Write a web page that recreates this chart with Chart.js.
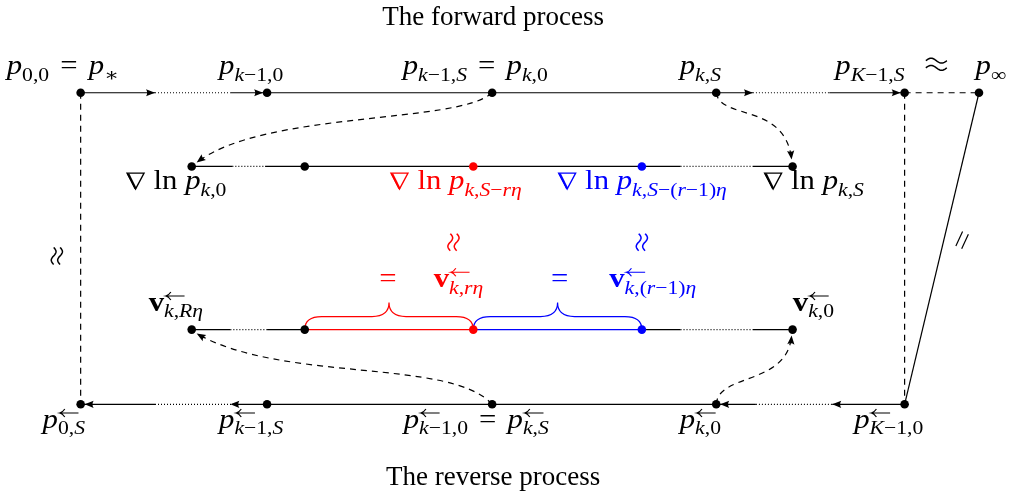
<!DOCTYPE html>
<html>
<head>
<meta charset="utf-8">
<script src="https://cdn.jsdelivr.net/npm/chart.js@4.4.1/dist/chart.umd.min.js"></script>
<style>
  html, body { margin: 0; padding: 0; background: #ffffff; }
  #chart { display: block; }
</style>
</head>
<body>
<canvas id="chart" width="1016" height="500" style="width:1016px;height:500px"></canvas>
<script>
// rows of the diagram (y in canvas units, the scales run 0..1016 and 0..500)
const topRowY = 90, gradRowY = 165, velRowY = 331, botRowY = 407;

// nodes
const topNodesX  = [77, 265, 492, 718, 908];
const infNode    = [983, 90];
const midNodesX  = [189, 303, 473, 643, 795];
const midColors  = ['#000000', '#000000', '#ff0000', '#0000ff', '#000000'];
const botNodesX  = [77, 265, 492, 718, 908];

// straight pieces [from, to] on each row
const topSolid   = [[77, 152], [228, 265], [265, 755], [832, 908]];
const topDotted  = [[152, 228], [755, 832]];
const topDashed  = [[908, 983]];
const gradSolid  = [[189, 230], [263, 682], [755, 795]];
const gradDotted = [[230, 263], [682, 755]];
const velSolid   = [[189, 228], [265, 303], [643, 682], [755, 795]];
const velDotted  = [[228, 265], [682, 755]];
const velRed     = [[303, 473]];
const velBlue    = [[473, 643]];
const botSolid   = [[77, 152], [230, 265], [265, 758], [835, 908]];
const botDotted  = [[152, 230], [758, 835]];
const sideDashedX = [77, 908];

// arrow tips on the rows [x, y, direction]
const rowArrows = [[152, 90, 1], [261, 90, 1], [755, 90, 1], [904, 90, 1],
                   [81, 407, -1], [228, 407, -1], [722, 407, -1], [835, 407, -1]];

// dashed curved arrows: start, control 1, control 2, tip
const curveArrows = [
  [[492, 90], [458, 122], [262, 108], [194, 161]],
  [[718, 90], [722, 118], [788, 100], [794, 158]],
  [[492, 407], [450, 360], [280, 385], [194, 335]],
  [[718, 407], [720, 375], [790, 388], [794, 337]]
];

// braces [x0, x1, color]
const braces = [[303, 473, '#ff0000'], [473, 643, '#0000ff']];

// text labels: runs are [text, style, level, noAdvance]
// style i=italic r=roman b=bold nabla / arrow drawn ; level 0 main, 1 sub, 2 sup
const EQ = [['', 'g', 0, 3], [' = ', 'r'], ['', 'g', 0, 3]];
const topLabels = [
  [59, [['p','i'],['0,0','r',1], ...EQ, ['p','i'],['\u2217','r',1]]],
  [249, [['p','i'],['k','i',1],['\u22121,0','r',1]]],
  [475, [['p','i'],['k','i',1],['\u22121,','r',1],['S','i',1], ...EQ, ['p','i'],['k','i',1],[',0','r',1]]],
  [702, [['p','i'],['k','i',1],[',','r',1],['S','i',1]]],
  [873, [['p','i'],['K','i',1],['\u22121,','r',1],['S','i',1]]],
  [995, [['p','i'],['\u221e','r',1]]]
];
const NABLA = [['', 'nabla'], [' ln ', 'r']];
const gradLabels = [
  [173, '#000000', [...NABLA, ['p','i'],['k','i',1],[',0','r',1]]],
  [455, '#ff0000', [...NABLA, ['p','i'],['k','i',1],[',','r',1],['S','i',1],['\u2212','r',1],['r\u03b7','i',1]]],
  [643, '#0000ff', [...NABLA, ['p','i'],['k','i',1],[',','r',1],['S','i',1],['\u2212(','r',1],['r','i',1],['\u22121)','r',1],['\u03b7','i',1]]],
  [816, '#000000', [...NABLA, ['p','i'],['k','i',1],[',','r',1],['S','i',1]]]
];
const ARR = ['', 'arrow', 2, true];
const velLabels = [
  [173, 312, '#000000', [['v','b'], ARR, ['k','i',1],[',','r',1],['R\u03b7','i',1]]],
  [387, 288, '#ff0000', [['=','r']]],
  [458, 288, '#ff0000', [['v','b'], ARR, ['k','i',1],[',','r',1],['r\u03b7','i',1]]],
  [560, 288, '#0000ff', [['=','r']]],
  [654, 288, '#0000ff', [['v','b'], ARR, ['k','i',1],[',(','r',1],['r','i',1],['\u22121)','r',1],['\u03b7','i',1]]],
  [816, 312, '#000000', [['v','b'], ARR, ['k','i',1],[',0','r',1]]]
];
const botLabels = [
  [60, [['p','i'], ARR, ['0,','r',1],['S','i',1]]],
  [249, [['p','i'], ARR, ['k','i',1],['\u22121,','r',1],['S','i',1]]],
  [476, [['p','i'], ARR, ['k','i',1],['\u22121,0','r',1], ...EQ, ['p','i'], ARR, ['k','i',1],[',','r',1],['S','i',1]]],
  [702, [['p','i'], ARR, ['k','i',1],[',0','r',1]]],
  [892, [['p','i'], ARR, ['K','i',1],['\u22121,0','r',1]]]
];
// approx signs [x, y, color, upright]
const approxMarks = [[940, 61, '#000000', false], [53, 256, '#000000', true],
                     [453, 242, '#ff0000', true], [643, 242, '#0000ff', true]];
const titles = [['The forward process', 493, 21], ['The reverse process', 493, 489]];

const MAIN = 27, SUB = 19, STRETCH = 1.14;
const FAMILY = '"Liberation Serif", "DejaVu Serif", serif';
const levelShift = [0, 6.5, -15];

function fontFor(style, level) {
  const size = level ? SUB : MAIN;
  const st = style === 'i' ? 'italic ' : style === 'b' ? 'bold ' : '';
  return st + size + 'px ' + FAMILY;
}

function drawNabla(ctx, x, base) {
  ctx.beginPath();
  ctx.moveTo(x + 1.5, base - 16);
  ctx.lineTo(x + 16.5, base - 16);
  ctx.lineTo(x + 9, base);
  ctx.closePath();
  ctx.lineWidth = 1.2;
  ctx.stroke();
  ctx.beginPath();
  ctx.moveTo(x + 2.5, base - 15.5);
  ctx.lineTo(x + 9, base - 0.5);
  ctx.lineWidth = 2;
  ctx.stroke();
}

function drawLeftArrow(ctx, x, yc, w) {
  ctx.lineWidth = 1;
  ctx.beginPath();
  ctx.moveTo(x + 0.5, yc);
  ctx.lineTo(x + w, yc);
  ctx.moveTo(x + 5, yc - 4);
  ctx.quadraticCurveTo(x + 3, yc - 0.5, x + 0.5, yc);
  ctx.quadraticCurveTo(x + 3, yc + 0.5, x + 5, yc + 4);
  ctx.stroke();
}

// one "~" centred at 0,0 along the x axis
function tildePath(ctx, w, a, dy) {
  ctx.beginPath();
  for (let i = 0; i <= 24; i++) {
    const t = i / 24;
    const px = -w / 2 + t * w, py = dy - a * Math.sin(2 * Math.PI * t);
    if (i === 0) ctx.moveTo(px, py); else ctx.lineTo(px, py);
  }
  ctx.stroke();
}

function drawMath(ctx, runs, cx, base, color) {
  let x = 0, supEnd = 0;
  const placed = [];
  runs.forEach(([t, s, lvl = 0, keep]) => {
    let w;
    if (s === 'g') { x += keep; return; }
    if (s === 'nabla') w = 18;
    else if (s === 'arrow') w = 17;
    else { ctx.font = fontFor(s, lvl); w = ctx.measureText(t).width; }
    if (lvl === 0) x = Math.max(x, supEnd);
    placed.push({ t, s, font: fontFor(s, lvl), x: keep ? x + 1 : x, dy: levelShift[lvl], w });
    if (keep) supEnd = x + w + 2; else x += w;
  });
  x = Math.max(x, supEnd);
  const left = cx - x * STRETCH / 2;
  ctx.save();
  ctx.translate(left, 0);
  ctx.scale(STRETCH, 1);
  ctx.fillStyle = color;
  ctx.strokeStyle = color;
  ctx.textAlign = 'left';
  ctx.textBaseline = 'alphabetic';
  placed.forEach(p => {
    if (p.s === 'nabla') drawNabla(ctx, p.x, base);
    else if (p.s === 'arrow') drawLeftArrow(ctx, p.x, base + p.dy, p.w);
    else { ctx.font = p.font; ctx.fillText(p.t, p.x, base + p.dy); }
  });
  ctx.restore();
}

function arrowHead(ctx, tx, ty, ang) {
  const L = 9, W = 3.6;
  ctx.save();
  ctx.translate(tx, ty);
  ctx.rotate(ang);
  ctx.beginPath();
  ctx.moveTo(0, 0);
  ctx.lineTo(-L, -W);
  ctx.quadraticCurveTo(-L * 0.75, 0, -L, W);
  ctx.closePath();
  ctx.fill();
  ctx.restore();
}

const segs = (list, yv, color, dash) => list.map(([a, b]) => ({
  data: [{ x: a, y: yv }, { x: b, y: yv }],
  showLine: true, borderColor: color, borderWidth: 1.2, borderDash: dash,
  pointRadius: 0, fill: false
}));

const nodeData = [
  ...topNodesX.map(v => ({ x: v, y: topRowY })),
  { x: infNode[0], y: infNode[1] },
  ...midNodesX.map(v => ({ x: v, y: gradRowY })),
  ...midNodesX.map(v => ({ x: v, y: velRowY })),
  ...botNodesX.map(v => ({ x: v, y: botRowY }))
];
const nodeColors = [
  ...topNodesX.map(() => '#000000'), '#000000',
  ...midColors, ...midColors,
  ...botNodesX.map(() => '#000000')
];

const dotted = [1, 2], dashed = [6, 5];
const datasets = [
  { data: nodeData, pointRadius: 4.3, pointBackgroundColor: nodeColors,
    pointBorderColor: nodeColors, pointBorderWidth: 0, showLine: false },
  ...segs(topSolid, topRowY, '#000000', []),
  ...segs(topDotted, topRowY, '#000000', dotted),
  ...segs(topDashed, topRowY, '#000000', dashed),
  ...segs(gradSolid, gradRowY, '#000000', []),
  ...segs(gradDotted, gradRowY, '#000000', dotted),
  ...segs(velSolid, velRowY, '#000000', []),
  ...segs(velDotted, velRowY, '#000000', dotted),
  ...segs(velRed, velRowY, '#ff0000', []),
  ...segs(velBlue, velRowY, '#0000ff', []),
  ...segs(botSolid, botRowY, '#000000', []),
  ...segs(botDotted, botRowY, '#000000', dotted),
  ...sideDashedX.map(v => ({
    data: [{ x: v, y: topRowY }, { x: v, y: botRowY }],
    showLine: true, borderColor: '#000000', borderWidth: 1.2, borderDash: dashed, pointRadius: 0
  })),
  { data: [{ x: infNode[0], y: infNode[1] }, { x: botNodesX[4], y: botRowY }],
    showLine: true, borderColor: '#000000', borderWidth: 1.2, pointRadius: 0 }
];

const diagramPlugin = {
  id: 'diagram',
  beforeDatasetsDraw(chart) {
    const { ctx, scales: { x, y } } = chart;
    const P = p => [x.getPixelForValue(p[0]), y.getPixelForValue(p[1])];
    ctx.save();
    ctx.strokeStyle = '#000000';
    ctx.fillStyle = '#000000';
    ctx.lineWidth = 1.2;

    // dashed curved arrows
    curveArrows.forEach(c => {
      const [a, b, d, e] = c.map(P);
      ctx.setLineDash(dashed);
      ctx.beginPath();
      ctx.moveTo(a[0], a[1]);
      ctx.bezierCurveTo(b[0], b[1], d[0], d[1], e[0], e[1]);
      ctx.stroke();
      ctx.setLineDash([]);
      arrowHead(ctx, e[0], e[1], Math.atan2(e[1] - d[1], e[0] - d[0]));
    });

    // row arrows
    rowArrows.forEach(([ax, ay, dir]) => {
      const [tx, ty] = P([ax, ay]);
      arrowHead(ctx, tx, ty, dir > 0 ? 0 : Math.PI);
    });

    // braces
    braces.forEach(([x0, x1, col]) => {
      const [l, base] = P([x0, velRowY]);
      const [r] = P([x1, velRowY]);
      const m = (l + r) / 2, h = base - 13, tip = base - 27, k = 17;
      ctx.strokeStyle = col;
      ctx.beginPath();
      ctx.moveTo(l, base);
      ctx.quadraticCurveTo(l, h, l + k, h);
      ctx.lineTo(m - k, h);
      ctx.quadraticCurveTo(m, h, m, tip);
      ctx.quadraticCurveTo(m, h, m + k, h);
      ctx.lineTo(r - k, h);
      ctx.quadraticCurveTo(r, h, r, base);
      ctx.stroke();
    });
    ctx.restore();
  },
  afterDatasetsDraw(chart) {
    const { ctx, scales: { x, y } } = chart;
    ctx.save();
    topLabels.forEach(([cx, runs]) => drawMath(ctx, runs, x.getPixelForValue(cx), y.getPixelForValue(71), '#000000'));
    gradLabels.forEach(([cx, col, runs]) => drawMath(ctx, runs, x.getPixelForValue(cx), y.getPixelForValue(188), col));
    velLabels.forEach(([cx, by, col, runs]) => drawMath(ctx, runs, x.getPixelForValue(cx), y.getPixelForValue(by), col));
    botLabels.forEach(([cx, runs]) => drawMath(ctx, runs, x.getPixelForValue(cx), y.getPixelForValue(431), '#000000'));

    // approx signs, some turned upright
    approxMarks.forEach(([ax, ay, col, rot]) => {
      ctx.save();
      ctx.translate(x.getPixelForValue(ax), y.getPixelForValue(ay));
      if (rot) ctx.rotate(Math.PI / 2);
      ctx.strokeStyle = col;
      ctx.lineWidth = 1.5;
      const w = rot ? 17 : 21, gap = rot ? 3.2 : 3.6;
      tildePath(ctx, w, 2.4, -gap);
      tildePath(ctx, w, 2.4, gap);
      ctx.restore();
    });

    // "parallel" mark on the slanted line
    ctx.save();
    ctx.translate(x.getPixelForValue(966), y.getPixelForValue(240));
    ctx.rotate(Math.atan2(botRowY - infNode[1], botNodesX[4] - infNode[0]) + 0.2);
    ctx.strokeStyle = '#000000';
    ctx.lineWidth = 1.2;
    ctx.beginPath();
    ctx.moveTo(-8, -3.2); ctx.lineTo(8, -3.2);
    ctx.moveTo(-8, 3.2); ctx.lineTo(8, 3.2);
    ctx.stroke();
    ctx.restore();

    // titles
    ctx.textAlign = 'center';
    ctx.textBaseline = 'alphabetic';
    ctx.fillStyle = '#000000';
    ctx.font = '27px ' + FAMILY;
    titles.forEach(([t, tx, ty]) => ctx.fillText(t, x.getPixelForValue(tx), y.getPixelForValue(ty)));
    ctx.restore();
  }
};

new Chart(document.getElementById('chart').getContext('2d'), {
  type: 'scatter',
  data: { datasets },
  options: {
    responsive: false,
    animation: false,
    events: [],
    layout: { padding: 0 },
    plugins: { legend: { display: false }, tooltip: { enabled: false } },
    scales: {
      x: { type: 'linear', min: 0, max: 1016, display: false },
      y: { type: 'linear', min: 0, max: 500, reverse: true, display: false }
    }
  },
  plugins: [diagramPlugin]
});
</script>
</body>
</html>
